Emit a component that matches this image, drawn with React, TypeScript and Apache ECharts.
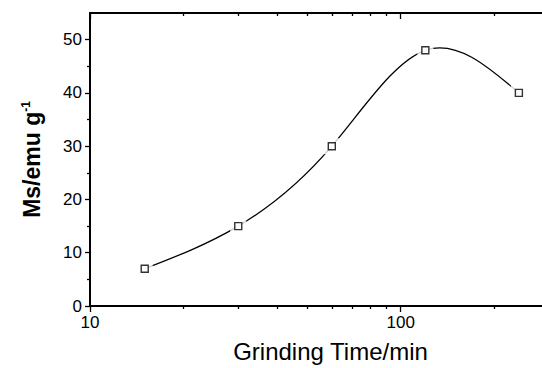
import React, { useEffect, useRef } from "react";
import * as echarts from "echarts";

const grindingTime = [15, 30, 60, 120, 240];
const msValues = [7, 15, 30, 48, 40];
const xMajorTicks = [10, 100];
const xMinorTicks = [20, 30, 40, 50, 60, 70, 80, 90, 200];
const yMajorTicks = [0, 10, 20, 30, 40, 50];
const yMinorTicks = [5, 15, 25, 35, 45];

const FONT = "'Liberation Sans', Arial, Helvetica, sans-serif";
const X_MIN = 10;
const X_MAX = 300;
const Y_MIN = 0;
const Y_MAX = 55;

// natural cubic spline second derivatives in pixel space
function splineM(P: number[][]): number[] {
  const n = P.length;
  const M = new Array(n).fill(0);
  if (n < 3) return M;
  const h: number[] = [];
  for (let i = 0; i < n - 1; i++) h.push(P[i + 1][0] - P[i][0]);
  const a: number[] = [], b: number[] = [], c: number[] = [], d: number[] = [];
  for (let i = 1; i < n - 1; i++) {
    a.push(h[i - 1]);
    b.push(2 * (h[i - 1] + h[i]));
    c.push(h[i]);
    d.push(6 * ((P[i + 1][1] - P[i][1]) / h[i] - (P[i][1] - P[i - 1][1]) / h[i - 1]));
  }
  const m = b.length;
  for (let i = 1; i < m; i++) {
    const w = a[i] / b[i - 1];
    b[i] -= w * c[i - 1];
    d[i] -= w * d[i - 1];
  }
  const x = new Array(m).fill(0);
  x[m - 1] = d[m - 1] / b[m - 1];
  for (let i = m - 2; i >= 0; i--) x[i] = (d[i] - c[i] * x[i + 1]) / b[i];
  for (let i = 0; i < m; i++) M[i + 1] = x[i];
  return M;
}

export default function App() {
  const ref = useRef<HTMLDivElement>(null);
  useEffect(() => {
    if (!ref.current) return;
    const chart = echarts.init(ref.current, null, { renderer: "svg" });
    const pts = grindingTime.map((t, i) => [t, msValues[i]]);
    const lineStyle = { color: "#000", width: 2 };
    const baseX = (pos: string, ticks: number[], len: number, inside: boolean, line: boolean, labels: boolean) => ({
      type: "log",
      position: pos,
      min: X_MIN,
      max: X_MAX,
      logBase: 10,
      gridIndex: 0,
      axisLine: { show: line, onZero: false, lineStyle },
      axisTick: { show: true, inside, length: len, customValues: ticks, lineStyle: { color: "#000", width: 1.3 } },
      axisLabel: labels
        ? { show: true, customValues: xMajorTicks, fontSize: 17, color: "#000", fontFamily: FONT, margin: 8 }
        : { show: false },
      splitLine: { show: false },
      minorTick: { show: false },
    });
    const baseY = (pos: string, ticks: number[], len: number, inside: boolean, line: boolean, labels: boolean) => ({
      type: "value",
      position: pos,
      min: Y_MIN,
      max: Y_MAX,
      interval: 10,
      gridIndex: 0,
      axisLine: { show: line, onZero: false, lineStyle },
      axisTick: { show: true, inside, length: len, customValues: ticks, lineStyle: { color: "#000", width: 1.3 } },
      axisLabel: labels
        ? { show: true, customValues: yMajorTicks, fontSize: 17, color: "#000", fontFamily: FONT, margin: 8 }
        : { show: false },
      splitLine: { show: false },
      minorTick: { show: false },
    });

    const xAxes: any[] = [
      {
        ...baseX("bottom", xMajorTicks, 6, false, true, true),
        name: "Grinding Time/min",
        nameLocation: "middle",
        nameGap: 33,
        nameTextStyle: { fontSize: 24, color: "#000", fontFamily: FONT, padding: [0, 0, 0, 22] },
      },
      baseX("bottom", xMinorTicks, 3, false, false, false),
      baseX("top", xMajorTicks, 6, true, true, false),
      baseX("top", xMinorTicks, 3, true, false, false),
    ];
    const yAxes: any[] = [
      {
        ...baseY("left", yMajorTicks, 5, false, true, true),
        name: "{a|Ms/emu g}{b|-1}",
        nameLocation: "middle",
        nameGap: 47,
        nameTextStyle: {
          color: "#000",
          fontFamily: FONT,
          rich: {
            a: { fontSize: 23, fontWeight: "bold", color: "#000", fontFamily: FONT },
            b: { fontSize: 12, fontWeight: "bold", color: "#000", fontFamily: FONT, verticalAlign: "top" },
          },
        },
      },
      baseY("left", yMinorTicks, 3, false, false, false),
      baseY("right", yMajorTicks, 6, true, true, false),
      baseY("right", yMinorTicks, 3, true, false, false),
    ];

    chart.setOption({
      animation: false,
      backgroundColor: "#fff",
      grid: { left: 90, top: 13, right: 11, bottom: 58, containLabel: false },
      xAxis: xAxes,
      yAxis: yAxes,
      series: [
        {
          type: "custom",
          data: pts,
          encode: { x: 0, y: 1 },
          xAxisIndex: 0,
          yAxisIndex: 0,
          silent: true,
          clip: false,
          renderItem: (params: any, api: any) => {
            const i = params.dataIndex;
            if (i >= grindingTime.length - 1) return { type: "group", children: [] };
            const P = grindingTime.map((t, k) => api.coord([t, msValues[k]]));
            const M = splineM(P);
            const x0 = P[i][0], y0 = P[i][1], x1 = P[i + 1][0], y1 = P[i + 1][1];
            const h = x1 - x0;
            const d0 = (y1 - y0) / h - (h * (2 * M[i] + M[i + 1])) / 6;
            const d1 = (y1 - y0) / h + (h * (M[i] + 2 * M[i + 1])) / 6;
            return {
              type: "bezierCurve",
              shape: {
                x1: x0, y1: y0, x2: x1, y2: y1,
                cpx1: x0 + h / 3, cpy1: y0 + (d0 * h) / 3,
                cpx2: x1 - h / 3, cpy2: y1 - (d1 * h) / 3,
              },
              style: { stroke: "#000", fill: "none", lineWidth: 1.3 },
            };
          },
        },
        {
          type: "scatter",
          data: pts,
          symbol: "rect",
          symbolSize: 16,
          itemStyle: { color: "#fff", borderWidth: 0 },
          xAxisIndex: 0,
          yAxisIndex: 0,
          silent: true,
        },
        {
          type: "scatter",
          data: pts,
          symbol: "rect",
          symbolSize: 7,
          itemStyle: { color: "#fff", borderColor: "#000", borderWidth: 1.4 },
          xAxisIndex: 0,
          yAxisIndex: 0,
          silent: true,
        },
      ],
    });
    return () => chart.dispose();
  }, []);
  return (
    <div style={{ width: 542, height: 368, position: "absolute", left: 0, top: 0, overflow: "hidden" }}>
      <div ref={ref} style={{ width: 560, height: 368 }} />
    </div>
  );
}
